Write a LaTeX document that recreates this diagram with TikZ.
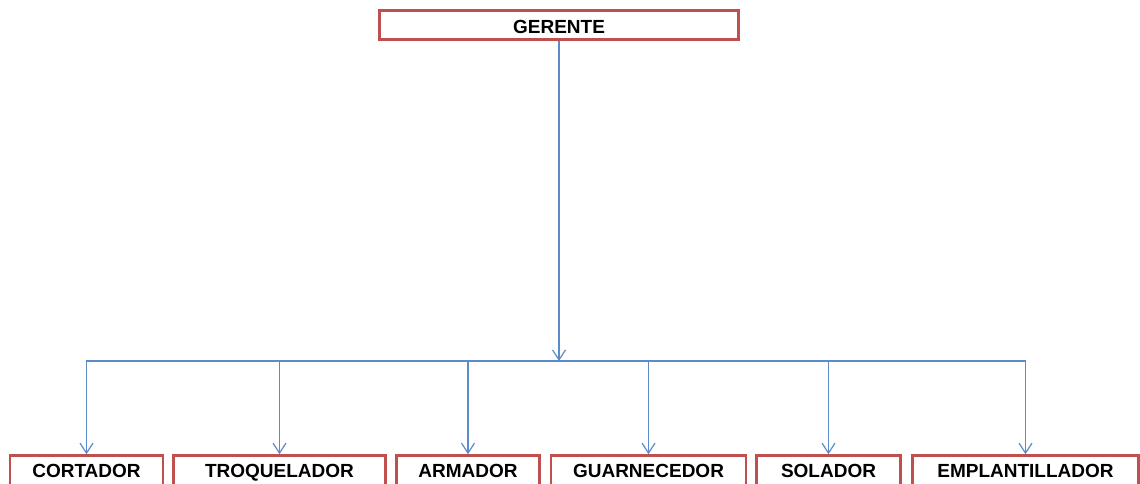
\documentclass[tikz,border=0pt]{standalone}
\usepackage{fontspec}
\setmainfont{Liberation Sans}
\usetikzlibrary{arrows.meta}
\definecolor{boxred}{HTML}{C0504D}
\definecolor{linkblue}{HTML}{5B8BC9}
\begin{document}
\begin{tikzpicture}[x=1pt,y=-1pt,
  rolebox/.style={draw=boxred,line width=2.6pt,fill=white,inner sep=0pt,
    font=\fontsize{19}{20}\selectfont\bfseries,text=black,text depth=0pt},
  conn/.style={draw=linkblue,line width=1.4pt,-{Straight Barb[length=10pt,width=13pt,line width=1.2pt]}},
  bar/.style={draw=linkblue,line width=1.4pt}]
\useasboundingbox (0,0) rectangle (1140,483);
\clip (0,0) rectangle (1140,483);
\node[rolebox,minimum width=359pt,minimum height=29pt,text height=16.6pt] (ger) at (559,25) {GERENTE};
\coordinate (bar) at (559,361);
\tikzset{child/.style={rolebox,minimum height=33pt,text height=10pt}}
\node[child,minimum width=153pt] (c1) at (86.5,472) {CORTADOR};
\node[child,minimum width=212pt] (c2) at (279.5,472) {TROQUELADOR};
\node[child,minimum width=143pt] (c3) at (468,472) {ARMADOR};
\node[child,minimum width=195pt] (c4) at (648.5,472) {GUARNECEDOR};
\node[child,minimum width=144pt] (c5) at (828.5,472) {SOLADOR};
\node[child,minimum width=226pt] (c6) at (1025.5,472) {EMPLANTILLADOR};
\draw[bar] (bar) -| (c1.north);
\draw[bar] (bar) -| (c6.north);
\draw[conn] (ger.south) -- (bar);
\foreach \c in {c1,c2,c3,c4,c5,c6}{
  \draw[conn] (bar) -| (\c.north);
}
\end{tikzpicture}
\end{document}
